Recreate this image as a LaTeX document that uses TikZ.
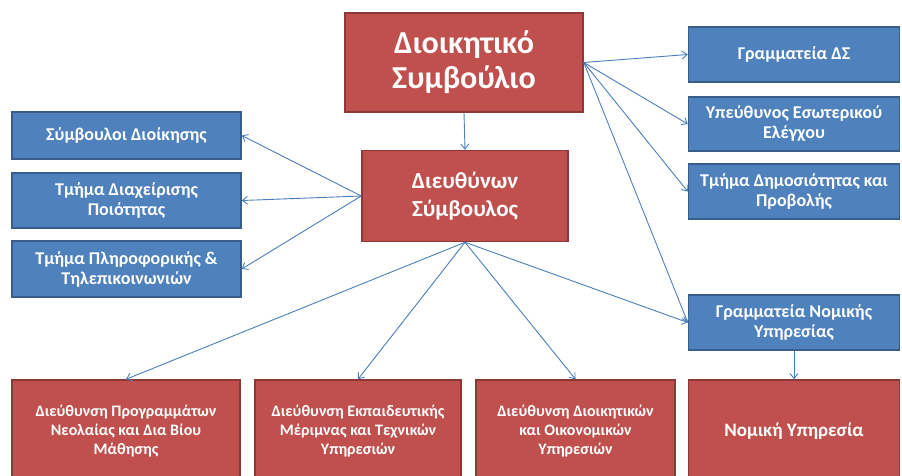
\documentclass[tikz,border=0pt]{standalone}
\usepackage{fontspec}
\setmainfont{Carlito}
\usepackage{xcolor}
\usetikzlibrary{arrows.meta}
\definecolor{boxred}{HTML}{C0504D}
\definecolor{redline}{HTML}{8C3836}
\definecolor{boxblue}{HTML}{4F81BD}
\definecolor{blueline}{HTML}{385D8A}
\definecolor{arrowblue}{HTML}{4A7EBB}

\begin{document}
\begin{tikzpicture}[x=1pt,y=-1pt,>={Straight Barb[length=5pt,width=8pt]}]
\tikzstyle{redbox}=[rectangle,draw=redline,line width=1.5pt,fill=boxred,text=white,align=center,inner sep=0pt]
\tikzstyle{bluebox}=[rectangle,draw=blueline,line width=1.5pt,fill=boxblue,text=white,align=center,inner sep=0pt,font=\fontsize{18}{20}\selectfont\bfseries]
\tikzstyle{link}=[->,draw=arrowblue,line width=0.9pt]
\useasboundingbox (0,0) rectangle (902,475);
% top of the chart
\node[redbox,minimum width=238pt,minimum height=99pt,font=\fontsize{32}{35}\selectfont\bfseries] (board) at (464,62.5) {Διοικητικό\\Συμβούλιο};
\node[redbox,minimum width=206pt,minimum height=91pt,font=\fontsize{23}{28}\selectfont\bfseries] (ceo) at (465,196) {Διευθύνων\\Σύμβουλος};
% left column
\node[bluebox,minimum width=229pt,minimum height=47pt] (advisors) at (126.5,135.5) {Σύμβουλοι Διοίκησης};
\node[bluebox,minimum width=229pt,minimum height=55pt] (quality) at (126.5,200.5) {Τμήμα Διαχείρισης\\Ποιότητας};
\node[bluebox,minimum width=229pt,minimum height=56pt] (it) at (126.5,269) {Τμήμα Πληροφορικής \&\\Τηλεπικοινωνιών};
% right column
\node[bluebox,minimum width=211pt,minimum height=55pt] (secr) at (794,54.5) {Γραμματεία ΔΣ};
\node[bluebox,minimum width=211pt,minimum height=54pt] (audit) at (794,124) {Υπεύθυνος Εσωτερικού\\Ελέγχου};
\node[bluebox,minimum width=211pt,minimum height=55pt] (pr) at (794,191.5) {Τμήμα Δημοσιότητας και\\Προβολής};
\node[bluebox,minimum width=211pt,minimum height=55pt] (legalsecr) at (794,322.5) {Γραμματεία Νομικής\\Υπηρεσίας};
% bottom row
\node[redbox,minimum width=228pt,minimum height=102pt,font=\fontsize{16}{19}\selectfont\bfseries] (youth) at (126,431) {Διεύθυνση Προγραμμάτων\\Νεολαίας και Δια Βίου\\Μάθησης};
\node[redbox,minimum width=206pt,minimum height=102pt,font=\fontsize{16}{19}\selectfont\bfseries] (edu) at (358,431) {Διεύθυνση Εκπαιδευτικής\\Μέριμνας και Τεχνικών\\Υπηρεσιών};
\node[redbox,minimum width=199pt,minimum height=102pt,font=\fontsize{16}{19}\selectfont\bfseries] (admin) at (575.5,431) {Διεύθυνση Διοικητικών\\και Οικονομικών\\Υπηρεσιών};
\node[redbox,minimum width=211pt,minimum height=102pt,font=\fontsize{19}{23}\selectfont\bfseries] (legal) at (794,431) {Νομική Υπηρεσία};
% connectors
\draw[link] (board.south) -- (ceo.north);
\draw[link] (board.east) -- (secr.west);
\draw[link] (board.east) -- (audit.west);
\draw[link] (board.east) -- (pr.west);
\draw[link] (board.east) -- (legalsecr.west);
\draw[link] (ceo.west) -- (advisors.east);
\draw[link] (ceo.west) -- (quality.east);
\draw[link] (ceo.west) -- (it.east);
\draw[link] (ceo.south) -- (youth.north);
\draw[link] (ceo.south) -- (edu.north);
\draw[link] (ceo.south) -- (admin.north);
\draw[link] (ceo.south) -- (legalsecr.west);
\draw[link] (legalsecr.south) -- (legal.north);
\end{tikzpicture}
\end{document}
